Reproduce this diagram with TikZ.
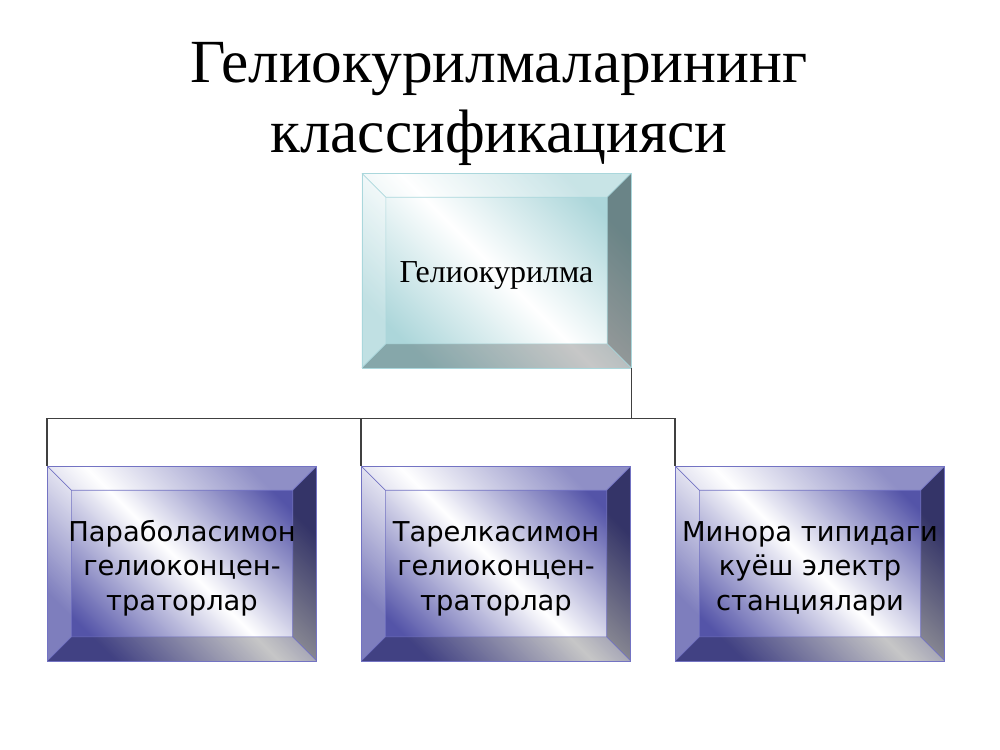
\documentclass[tikz,border=0pt]{standalone}
\usepackage{fontspec}
\setmainfont{Liberation Serif}
\newfontfamily\boxfont{DejaVu Sans}
\newcommand\pushdown{\rule{0pt}{23pt}}
\definecolor{rimblue}{RGB}{84,84,168}
\definecolor{edgeblue}{RGB}{115,115,195}
\definecolor{rimaqua}{RGB}{172,214,218}
\definecolor{edgeaqua}{RGB}{170,215,220}
\tikzset{
  bevelbox/.style={rectangle, inner sep=0pt, align=center,
    minimum width=202pt, minimum height=146pt, draw=#1,
    path picture={
      \path (path picture bounding box.north west) coordinate (o1)
            (path picture bounding box.north east) coordinate (o2)
            (path picture bounding box.south east) coordinate (o3)
            (path picture bounding box.south west) coordinate (o4);
      \path ([shift={(18pt,-18pt)}]o1) coordinate (i1)
            ([shift={(-18pt,-18pt)}]o2) coordinate (i2)
            ([shift={(-18pt,18pt)}]o3) coordinate (i3)
            ([shift={(18pt,18pt)}]o4) coordinate (i4);
      \fill[white,opacity=.35] (o1) -- (o2) -- (i2) -- (i1) -- cycle;
      \fill[white,opacity=.25] (o1) -- (i1) -- (i4) -- (o4) -- cycle;
      \fill[black,opacity=.38] (o2) -- (o3) -- (i3) -- (i2) -- cycle;
      \fill[black,opacity=.22] (o4) -- (i4) -- (i3) -- (o3) -- cycle;
      \draw[#1,line width=.5pt] (o1) -- (i1) (o2) -- (i2) (o3) -- (i3) (o4) -- (i4)
        (i1) rectangle (i3);
    }},
  topbox/.style={bevelbox=edgeaqua, top color=rimaqua, bottom color=rimaqua,
    middle color=white, shading angle=-45, font=\fontsize{24pt}{28pt}\selectfont},
  subbox/.style={bevelbox=edgeblue, top color=rimblue, bottom color=rimblue,
    middle color=white, shading angle=-45, font=\boxfont\fontsize{20.5pt}{26pt}\selectfont},
  conn/.style={black!75, line width=.9pt}
}
\begin{document}
\begin{tikzpicture}[x=0.75pt,y=-0.75pt]
\useasboundingbox[fill=white] (0,0) rectangle (1000,750);
% title
\node[align=center, font=\fontsize{46pt}{53pt}\selectfont] (title) at (499,104)
  {Гелиокурилмаларининг\\классификацияси};
% boxes
\node[topbox] (helio) at (496.5,270.5) {\pushdown Гелиокурилма};
\node[subbox] (parab) at (182,563.5) {\pushdown Параболасимон\\гелиоконцен-\\траторлар};
\node[subbox] (tarel) at (496,563.5) {\pushdown Тарелкасимон\\гелиоконцен-\\траторлар};
\node[subbox] (minora) at (810,563.5) {\pushdown Минора типидаги\\куёш электр\\станциялари};
% connectors
\draw[conn] (helio.south east) -- ++(0,50) coordinate (bus);
\draw[conn] (parab.north west) -- (parab.north west |- bus) -| (minora.north west);
\draw[conn] (tarel.north west) -- (tarel.north west |- bus);
\end{tikzpicture}
\end{document}
